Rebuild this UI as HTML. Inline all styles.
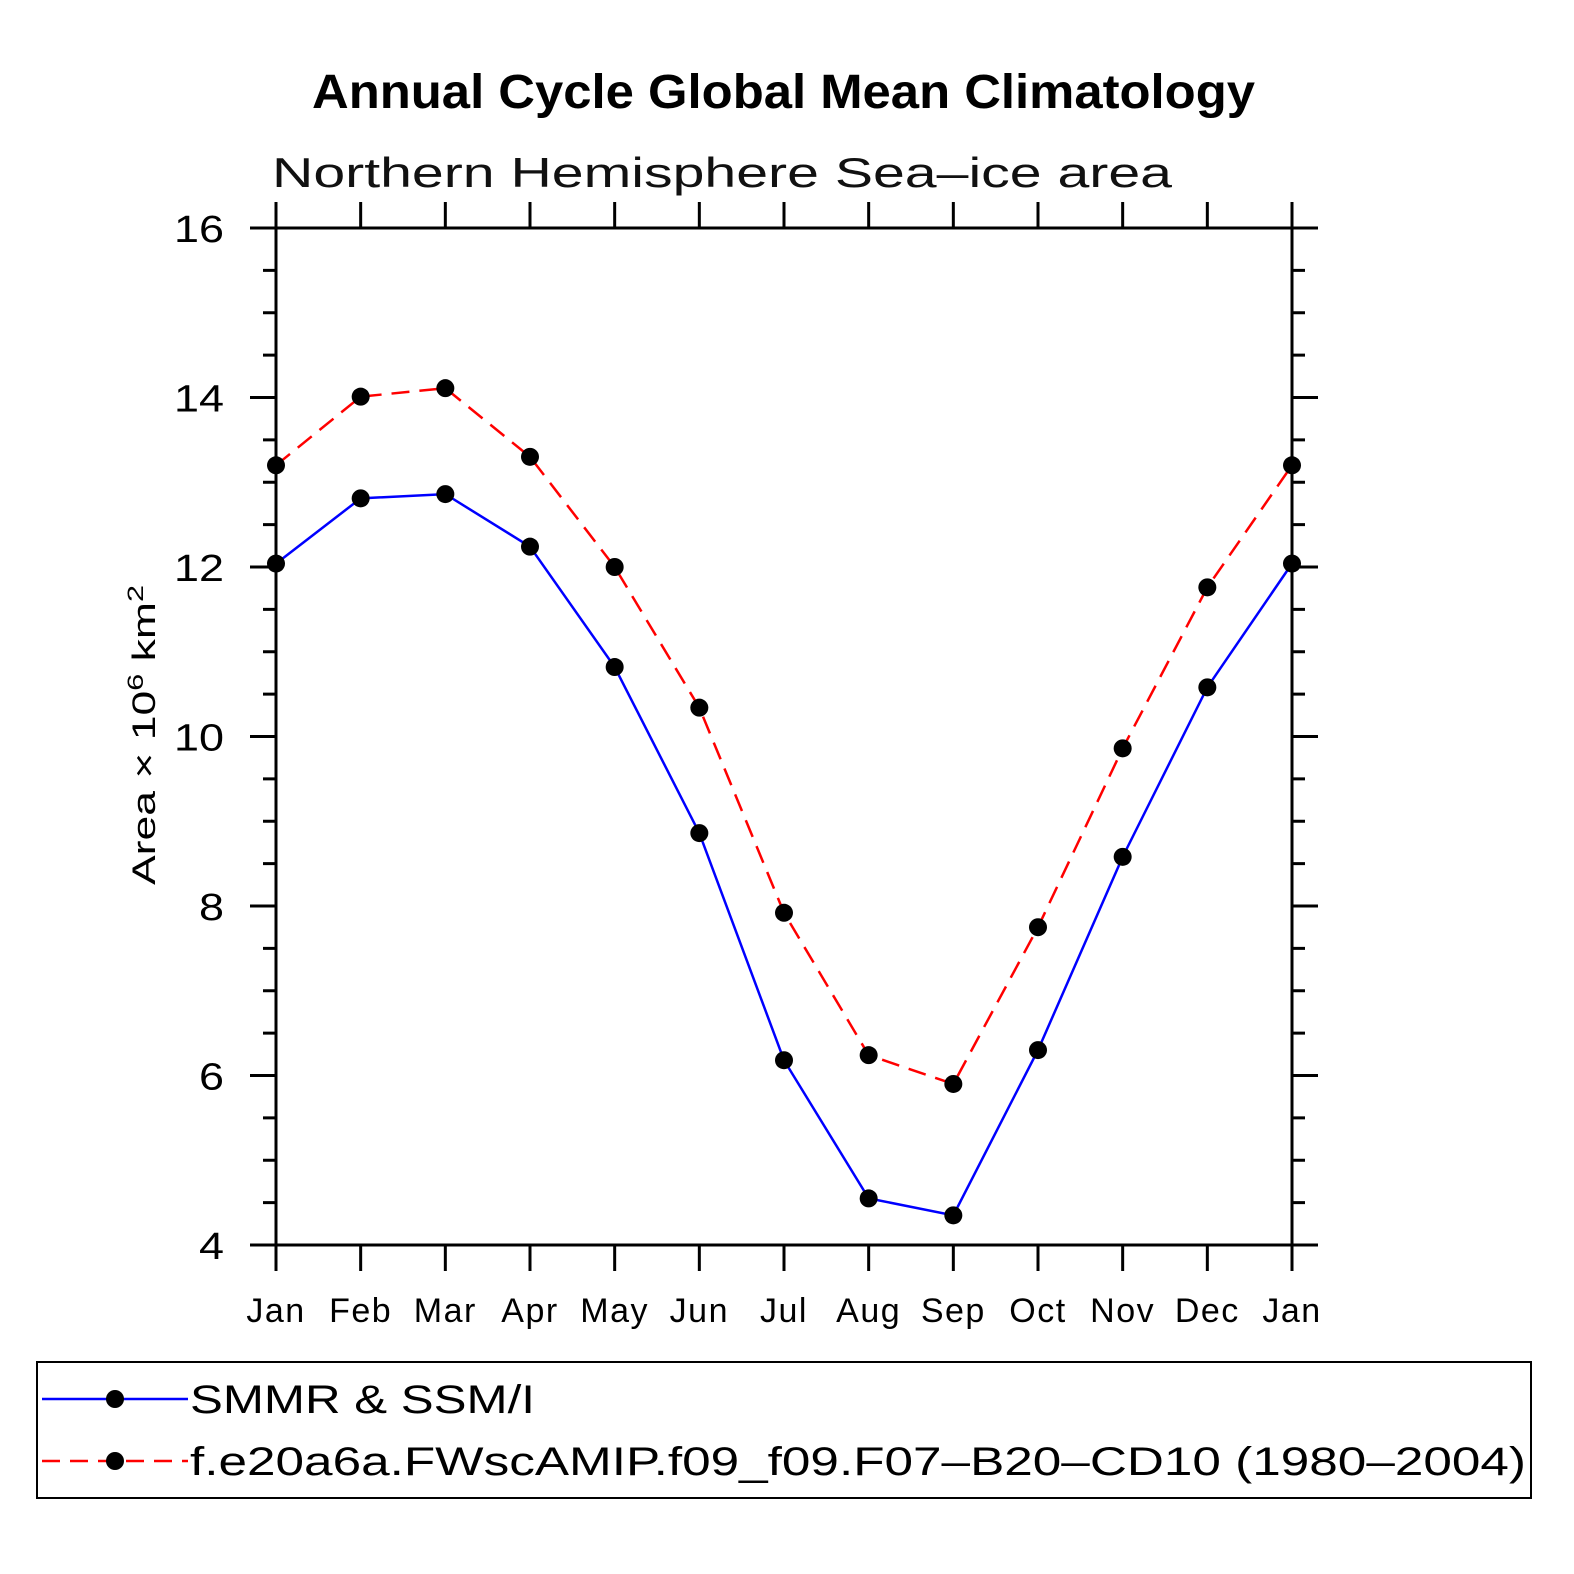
<!DOCTYPE html>
<html><head><meta charset="utf-8"><style>
html,body{margin:0;padding:0;background:#fff}
svg{display:block}
text{font-family:"Liberation Sans","DejaVu Sans",sans-serif}
</style></head><body>
<svg id="chart" width="1574" height="1574" viewBox="0 0 1574 1574">
<text x="312" y="108" textLength="943" lengthAdjust="spacingAndGlyphs" font-size="48" font-weight="bold">Annual Cycle Global Mean Climatology</text>
<text x="272" y="187" textLength="900" lengthAdjust="spacingAndGlyphs" font-size="42" fill="#111">Northern  Hemisphere  Sea–ice  area</text>
<text transform="translate(155,885) rotate(-90)" font-size="32" textLength="300" lengthAdjust="spacingAndGlyphs">Area × 10<tspan dy="-12" font-size="22">6</tspan><tspan dy="12"> km</tspan><tspan dy="-12" font-size="22">2</tspan></text>
<g id="axes"></g>
<g id="series"></g>
<rect x="37" y="1362" width="1494" height="136" fill="none" stroke="#000" stroke-width="2"/>
<g>
<line x1="42" y1="1399" x2="188" y2="1399" stroke="#00f" stroke-width="2.5"/>
<circle cx="115" cy="1399" r="9"/>
<text x="190" y="1413" font-size="40" textLength="345" lengthAdjust="spacingAndGlyphs">SMMR &amp; SSM/I</text>
</g>
<g>
<line x1="42" y1="1461" x2="188" y2="1461" stroke="#f00" stroke-width="2.5" stroke-dasharray="18,10"/>
<circle cx="115" cy="1461" r="9"/>
<text x="190" y="1475" font-size="40" textLength="1336" lengthAdjust="spacingAndGlyphs">f.e20a6a.FWscAMIP.f09_f09.F07–B20–CD10 (1980–2004)</text>
</g>
</svg>
<script>
const months = ["Jan","Feb","Mar","Apr","May","Jun","Jul","Aug","Sep","Oct","Nov","Dec","Jan"];
const obsValues = [12.04,12.81,12.86,12.24,10.82,8.86,6.18,4.55,4.35,6.30,8.58,10.58,12.04];
const modelValues = [13.20,14.01,14.11,13.30,12.00,10.34,7.92,6.24,5.90,7.75,9.86,11.76,13.20];
const yTicks = [4,6,8,10,12,14,16];
const NS="http://www.w3.org/2000/svg";
const L=276,R=1292,T=228,B=1245;
const xS=i=>L+(R-L)*i/(months.length-1);
const yS=v=>B-(B-T)*(v-4)/12;
function mk(tag,attrs,parent){const e=document.createElementNS(NS,tag);for(const k in attrs)e.setAttribute(k,attrs[k]);parent.appendChild(e);return e;}
const ax=document.getElementById('axes');
const frame=mk('rect',{x:L,y:T,width:R-L,height:B-T,fill:'none',stroke:'#000','stroke-width':3},ax);


months.forEach((m,i)=>{
  const x=xS(i);
  const t1=mk('line',{x1:x,y1:T-26,x2:x,y2:T,stroke:'#000','stroke-width':3},ax);
  
  
  const t2=mk('line',{x1:x,y1:B,x2:x,y2:B+26,stroke:'#000','stroke-width':3},ax);
  
  
  const lb=mk('text',{x:x,y:1322,'text-anchor':'middle','font-size':34,'letter-spacing':1.5},ax);
  lb.textContent=m;
  
  
});
for(let v=4;v<=16.001;v+=0.5){
  const major=Math.abs(v-Math.round(v/2)*2)<1e-6;
  const len=major?26:13,y=yS(v);
  const a=mk('line',{x1:L-len,y1:y,x2:L,y2:y,stroke:'#000','stroke-width':3},ax);
  
  
  const b=mk('line',{x1:R,y1:y,x2:R+len,y2:y,stroke:'#000','stroke-width':3},ax);
  
  
}
yTicks.forEach(v=>{
  const s=String(v);
  const lb=mk('text',{x:224,y:yS(v)+14,'text-anchor':'end','font-size':38,textLength:s.length*25,lengthAdjust:'spacingAndGlyphs'},ax);
  lb.textContent=s;
  
  
});
const sg=document.getElementById('series');
function drawSeries(vals,color,dash,name){
  const pts=vals.map((v,i)=>xS(i)+','+yS(v)).join(' ');
  const pl=mk('polyline',{points:pts,fill:'none',stroke:color,'stroke-width':2.5,'stroke-dasharray':dash},sg);
  
  
  vals.forEach((v,i)=>{
    const c=mk('circle',{cx:xS(i),cy:yS(v),r:9,fill:'#000'},sg);
    
    
  });
}
drawSeries(modelValues,'#f00','18,10','model');
drawSeries(obsValues,'#00f','none','obs');
</script>
</body></html>
